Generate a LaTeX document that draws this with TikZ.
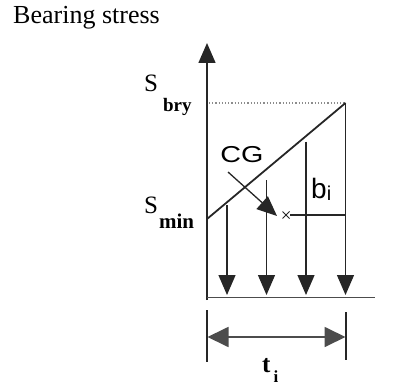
\documentclass[tikz,border=0pt]{standalone}
\usepackage{fontspec}
\setmainfont{Liberation Serif}
\newfontfamily\arialf{Liberation Sans}
\usetikzlibrary{arrows.meta,calc}
\tikzset{
  ln/.style={line width=1.3pt, draw=black!85},
  bigtip/.style={-{Triangle[length=20pt,width=17pt]}},
  dimtip/.style={{Triangle[length=21pt,width=20pt]}-{Triangle[length=21pt,width=20pt]}},
  lbl/.style={inner sep=0pt, anchor=base west}
}
\begin{document}
\begin{tikzpicture}[x=1pt,y=-1pt]
\useasboundingbox (0,0) rectangle (396,385);
% title
\node[lbl, font=\fontsize{26}{30}\selectfont] (title) at (13,24) {Bearing stress};
% axis
\coordinate (axbot) at (207,300);
\coordinate (axtop) at (207,43);
\draw[ln, bigtip, line width=1.5pt] (axbot) -- (axtop);
% ground
\coordinate (gl) at (207,297.5);
\coordinate (gr) at (375,297.5);
\draw[ln, draw=black!70, line width=1.8pt] (gl) -- (gr);
% dotted level
\coordinate (dl) at (209,103);
\coordinate (dr) at (345,103);
\draw[black!45, line width=1.2pt, dotted] (dl) -- (dr);
% diagonal
\coordinate (smin) at (207,219);
\coordinate (sbry) at (345.5,103);
\draw[ln, line width=1.8pt] (smin) -- (sbry);
% load arrows
\coordinate (a1t) at (227,205);   \coordinate (a1b) at (227,295);
\coordinate (a2t) at (266.5,180); \coordinate (a2b) at (266.5,295);
\coordinate (a3t) at (306,141.5); \coordinate (a3b) at (306,295);
\coordinate (a4t) at (345.5,103); \coordinate (a4b) at (345.5,295);
\foreach \i in {1,2,3,4}{\draw[ln, bigtip] (a\i t) -- (a\i b);}
% CG point and lever arm
\coordinate (cg) at (286,215);
\draw[ln, line width=1pt] ($(cg)+(-3.5,-3.5)$) -- ($(cg)+(3.5,3.5)$);
\draw[ln, line width=1pt] ($(cg)+(-3.5,3.5)$) -- ($(cg)+(3.5,-3.5)$);
\coordinate (bl) at (290,215);
\coordinate (br) at (345.5,215);
\draw[ln, line width=1.2pt] (bl) -- (br);
% CG label and arrow
\node[inner sep=0pt, font=\arialf\fontsize{23}{26}\selectfont] (cgl) at (242,155) {\scalebox{1.25}[1]{CG}};
\coordinate (cgs) at (228,172);
\coordinate (cgt) at (277,216);
\draw[ln, bigtip] (cgs) -- (cgt);
% b_i
\node[lbl, font=\arialf\fontsize{28}{30}\selectfont] (bi) at (311,198) {b\raisebox{-2pt}{\fontsize{20}{22}\selectfont i}};
% S labels
\node[lbl, font=\fontsize{25}{28}\selectfont] (sbryl) at (144,92) {S\hspace{5pt}\raisebox{-20pt}{\fontsize{19}{20}\selectfont\bfseries bry}};
\node[lbl, font=\fontsize{25}{28}\selectfont] (sminl) at (144,213) {S\hspace{1pt}\raisebox{-15pt}{\fontsize{21}{22}\selectfont\bfseries min}};
% dimension t_i
\coordinate (tl1) at (207,310); \coordinate (tl2) at (207,362);
\coordinate (tr1) at (346,312); \coordinate (tr2) at (346,360);
\draw[ln, line width=1.3pt] (tl1) -- (tl2);
\draw[ln, line width=1.3pt] (tr1) -- (tr2);
\coordinate (dl1) at (207.5,337); \coordinate (dr1) at (345.5,337);
\draw[ln, draw=black!70, line width=1.8pt, dimtip] (dl1) -- (dr1);
\node[lbl, font=\fontsize{25}{28}\selectfont\bfseries] (ti) at (262,372) {t\hspace{3pt}\raisebox{-10pt}{\fontsize{17}{18}\selectfont i}};
\end{tikzpicture}
\end{document}
